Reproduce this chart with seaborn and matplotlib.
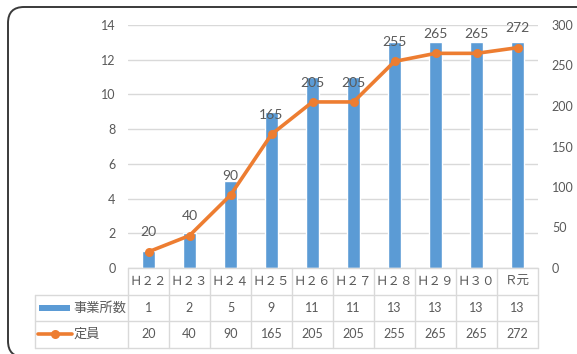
import numpy as np
import matplotlib
matplotlib.use("Agg")
import matplotlib.pyplot as plt
import matplotlib.transforms as mtransforms
from matplotlib.patches import FancyBboxPatch, Rectangle
from matplotlib.lines import Line2D
import seaborn as sns

# ---- data ----
categories = ["Ｈ２２", "Ｈ２３", "Ｈ２４", "Ｈ２５", "Ｈ２６", "Ｈ２７", "Ｈ２８", "Ｈ２９", "Ｈ３０", "Ｒ元"]
jigyosho = [1, 2, 5, 9, 11, 11, 13, 13, 13, 13]
teiin = [20, 40, 90, 165, 205, 205, 255, 265, 265, 272]
series_names = ["事業所数", "定員"]
left_ticks = [0, 2, 4, 6, 8, 10, 12, 14]
right_ticks = [0, 50, 100, 150, 200, 250, 300]

BLUE = "#5B9BD5"
ORANGE = "#ED7D31"
TXT = "#595959"
GRID = "#D9D9D9"

sns.set_style("white")
plt.rcParams["font.family"] = ["Lato", "Noto Sans CJK JP", "DejaVu Sans"]

W, H = 577, 354
fig = plt.figure(figsize=(W / 100, H / 100), dpi=100)
ax = fig.add_axes([128 / W, (H - 268) / H, 410 / W, 243 / H])

sns.barplot(x=categories, y=jigyosho, ax=ax, color=BLUE, width=0.32,
            saturation=1, zorder=2)
ax.set_ylim(0, 14)
ax.set_yticks(left_ticks)
ax.yaxis.grid(True, color=GRID, lw=1)
ax.set_axisbelow(True)
for s in ax.spines.values():
    s.set_visible(False)
ax.tick_params(axis="y", length=0, pad=9, labelsize=9, labelcolor=TXT)
ax.tick_params(axis="x", length=0, labelbottom=False)
ax.set_xlabel("")
ax.set_ylabel("")

ax2 = ax.twinx()
n = len(categories)
xs = np.arange(n)
sns.lineplot(x=xs, y=teiin, ax=ax2, color=ORANGE, lw=2.6, marker="o",
             markersize=6.5, markeredgewidth=0, zorder=3)
ax2.set_ylim(0, 300)
ax2.set_yticks(right_ticks)
for s in ax2.spines.values():
    s.set_visible(False)
ax2.tick_params(axis="y", length=0, pad=10, labelsize=9, labelcolor=TXT)
ax2.set_ylabel("")
ax2.grid(False)
ax.set_xlim(-0.5, n - 0.5)

for i, v in enumerate(teiin):
    ax2.annotate(str(v), (i, v), xytext=(0, 14), textcoords="offset points",
                 ha="center", va="center", fontsize=10, color=TXT)

# ---- data table ----
tr = mtransforms.blended_transform_factory(ax.transData, ax.transAxes)
r0, r1, r2, r3 = 0.0, -0.111, -0.218, -0.329
xl = -0.5
xr = n - 0.5
xh = -2.77
lkw = dict(color=GRID, lw=1, transform=tr, clip_on=False)
ax.add_line(Line2D([xl, xr], [r0, r0], **lkw))
for yy in (r1, r2, r3):
    ax.add_line(Line2D([xh, xr], [yy, yy], **lkw))
for k in range(n + 1):
    ax.add_line(Line2D([k - 0.5, k - 0.5], [r0, r3], **lkw))
ax.add_line(Line2D([xh, xh], [r1, r3], **lkw))

c1, c2, c3 = (r0 + r1) / 2, (r1 + r2) / 2, (r2 + r3) / 2
for i in range(n):
    ax.text(i, c1, categories[i], transform=tr, ha="center", va="center",
            fontsize=9, color=TXT, family=["Noto Sans CJK JP"], clip_on=False)
    ax.text(i, c2, str(jigyosho[i]), transform=tr, ha="center", va="center",
            fontsize=9, color=TXT, clip_on=False)
    ax.text(i, c3, str(teiin[i]), transform=tr, ha="center", va="center",
            fontsize=9, color=TXT, clip_on=False)

# legend keys in header column
ax.add_patch(Rectangle((-2.67, c2 - 0.012), 0.76, 0.026, facecolor=BLUE,
                       edgecolor="none", transform=tr, clip_on=False))
ax.text(-1.84, c2, series_names[0], transform=tr, ha="left", va="center",
        fontsize=9.5, color=TXT, family=["Noto Sans CJK JP"], clip_on=False)
ax.add_line(Line2D([-2.7, -1.87], [c3, c3], color=ORANGE, lw=2.6,
                   transform=tr, clip_on=False))
ax.add_line(Line2D([-2.285], [c3], color=ORANGE, marker="o", markersize=6.5,
                   markeredgewidth=0, transform=tr, clip_on=False))
ax.text(-1.84, c3, series_names[1], transform=tr, ha="left", va="center",
        fontsize=9.5, color=TXT, family=["Noto Sans CJK JP"], clip_on=False)

# ---- rounded outer frame ----
frame = FancyBboxPatch((8, -3), 585, H - 7 + 3,
                       boxstyle="round,pad=0,rounding_size=16",
                       transform=mtransforms.IdentityTransform(),
                       facecolor="none", edgecolor="#3A3A3A", lw=1.4)
fig.add_artist(frame)

fig.savefig("out.png", dpi=100)
